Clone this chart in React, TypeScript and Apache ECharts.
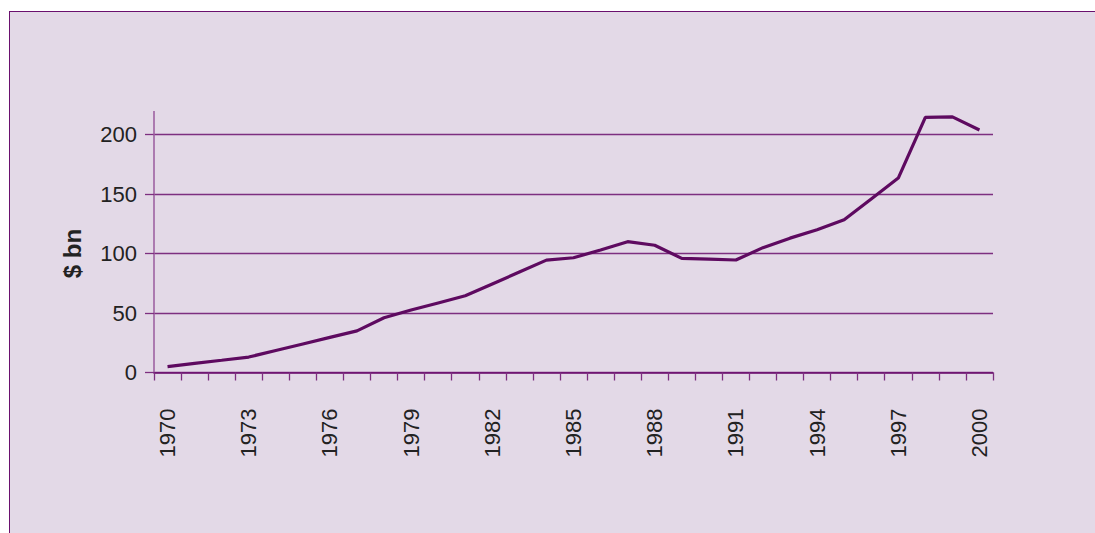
import React, { useEffect, useRef } from "react";
import * as echarts from "echarts";

const years: string[] = [
  "1970", "1971", "1972", "1973", "1974", "1975", "1976", "1977", "1978", "1979",
  "1980", "1981", "1982", "1983", "1984", "1985", "1986", "1987", "1988", "1989",
  "1990", "1991", "1992", "1993", "1994", "1995", "1996", "1997", "1998", "1999", "2000",
];
const values: number[] = [
  5, 7.7, 10.3, 13, 18.5, 24, 29.5, 35, 46, 52.5,
  58.5, 64.5, 74.5, 84.5, 94.5, 96.5, 103, 110, 107, 96,
  95.3, 94.6, 105, 113, 120, 128.5, 146, 163.5, 214.5, 215, 204,
];
const yTicks = { min: 0, max: 200, interval: 50 };
const yTitle = "$ bn";

const FONT = "'Liberation Sans Narrow', 'Liberation Sans', Arial, sans-serif";

export default function App() {
  const ref = useRef<HTMLDivElement>(null);
  useEffect(() => {
    document.body.style.margin = "0";
    document.body.style.overflow = "hidden";
    if (!ref.current) return;
    const chart = echarts.init(ref.current, null, { renderer: "svg" });
    chart.setOption({
      animation: false,
      backgroundColor: "transparent",
      graphic: [
        {
          type: "line",
          z: 10,
          silent: true,
          shape: { x1: 154, y1: 111, x2: 154, y2: 135 },
          style: { stroke: "#9a5a9e", lineWidth: 1.5 },
        },
      ],
      grid: { left: 154, right: 102, top: 134.7, bottom: 160.5, containLabel: false },
      xAxis: {
        type: "category",
        data: years,
        boundaryGap: true,
        axisLine: { show: true, lineStyle: { color: "#6b0f6e", width: 1.5 } },
        axisTick: { show: true, interval: 0, length: 8, lineStyle: { color: "#7d2f80", width: 1.3 } },
        axisLabel: {
          interval: 2,
          rotate: 90,
          margin: 36,
          color: "#222222",
          fontFamily: FONT,
          fontSize: 22,
        },
        splitLine: { show: false },
      },
      yAxis: {
        type: "value",
        min: yTicks.min,
        max: yTicks.max,
        interval: yTicks.interval,
        name: yTitle,
        nameLocation: "middle",
        nameGap: 70,
        nameRotate: 90,
        nameTextStyle: { color: "#222222", fontFamily: FONT, fontSize: 24, fontWeight: "bold" },
        axisLine: { show: true, lineStyle: { color: "#9a5a9e", width: 1.5 } },
        axisTick: { show: true, length: 9, lineStyle: { color: "#7d2f80", width: 1.3 } },
        axisLabel: { margin: 17, color: "#222222", fontFamily: FONT, fontSize: 22 },
        splitLine: { show: true, lineStyle: { color: "#7d2f80", width: 1.3 } },
      },
      series: [
        {
          type: "line",
          data: values,
          symbol: "none",
          clip: false,
          lineStyle: { color: "#5e0a60", width: 3.2 },
        },
      ],
    });
    return () => chart.dispose();
  }, []);
  return (
    <div style={{ position: "relative", width: 1095, height: 533, background: "#ffffff", overflow: "hidden" }}>
      <div
        style={{
          position: "absolute",
          left: 9,
          top: 11,
          width: 1200,
          height: 700,
          background: "#e3d9e7",
          borderLeft: "1.5px solid #6a106e",
          borderTop: "1.5px solid #6a106e",
        }}
      />
      <div ref={ref} style={{ position: "absolute", left: 0, top: 0, width: 1095, height: 533 }} />
    </div>
  );
}
